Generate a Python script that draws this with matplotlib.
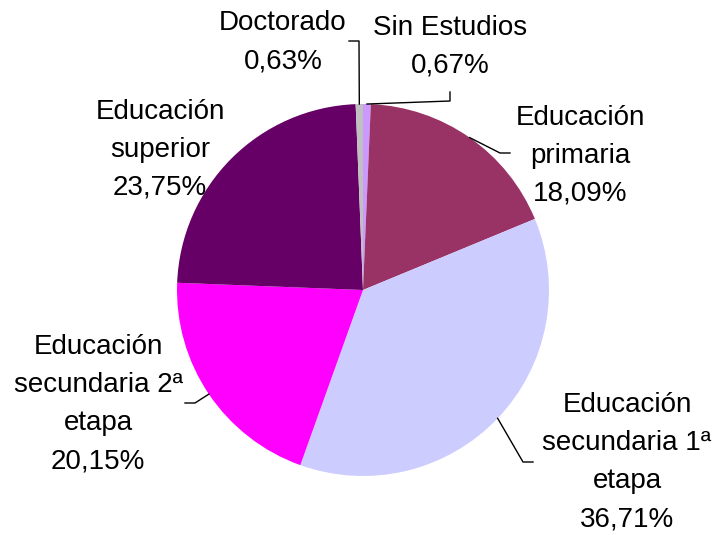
import numpy as np
import matplotlib.pyplot as plt

plt.rcParams['font.family'] = ['Liberation Sans', 'DejaVu Sans']

labels = ['Sin Estudios', 'Educación\nprimaria', 'Educación\nsecundaria 1ª\netapa',
          'Educación\nsecundaria 2ª\netapa', 'Educación\nsuperior', 'Doctorado']
values = [0.67, 18.09, 36.71, 20.15, 23.75, 0.63]
colors = ['#CC99FF', '#993366', '#CCCCFF', '#FF00FF', '#660066', '#C0C0C0']

W, H = 714, 535
fig = plt.figure(figsize=(W / 100, H / 100), dpi=100)
ax = fig.add_axes([0, 0, 1, 1])

cx, cy, r = 363, H - 290, 186
wedges, _ = ax.pie(values, colors=colors, startangle=90, counterclock=False,
                   center=(cx, cy), radius=r, frame=True,
                   wedgeprops=dict(linewidth=0))
ax.set_xlim(0, W)
ax.set_ylim(0, H)
ax.axis('off')

# label centres (pixel coords, y from top) and leader elbow points
text_pos = [(450, 47), (580, 156), (627, 462), (98, 404), (160, 150), (283, 42)]
elbows = [[(450, 101), (450, 92)],
          [(500, 153), (510, 153)],
          [(523, 462), (533, 462)],
          [(195, 403), (185, 403)],
          None,
          [(359, 41), (349, 41)]]

for w, lab, v, tp, el in zip(wedges, labels, values, text_pos, elbows):
    txt = lab + '\n' + ('%.2f' % v).replace('.', ',') + '%'
    ax.text(tp[0], H - tp[1], txt, ha='center', va='center', fontsize=20,
            linespacing=1.6, color='black')
    if el is None:
        continue
    ang = np.deg2rad((w.theta1 + w.theta2) / 2)
    x0 = cx + r * np.cos(ang)
    y0 = cy + r * np.sin(ang)
    xs = [x0] + [p[0] for p in el]
    ys = [y0] + [H - p[1] for p in el]
    ax.plot(xs, ys, color='black', lw=1)

fig.savefig('out.png', dpi=100)
